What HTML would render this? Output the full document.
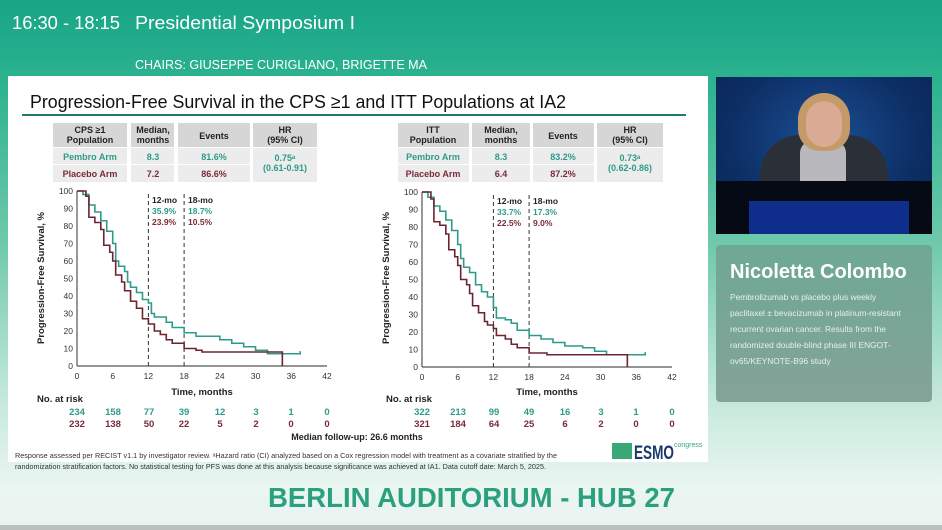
<!DOCTYPE html>
<html><head><meta charset="utf-8"><style>
*{margin:0;padding:0;box-sizing:border-box}
body{width:942px;height:530px;overflow:hidden;position:relative;font-family:"Liberation Sans",sans-serif;
background:linear-gradient(180deg,#17a586 0%,#2cb28f 15%,#6cc8aa 45%,#c4e8da 75%,#eaf6f1 92%,#e9f2ef 100%)}
.a{position:absolute;white-space:nowrap}
.slide{position:absolute;left:8px;top:76px;width:700px;height:386px;background:#fff}
</style></head><body>
<div class="slide"></div>
<div class="a" style="left:716px;top:77px;width:216px;height:157px;background:radial-gradient(ellipse at 50% 40%,#1b4f93 0%,#0d2f66 60%,#0a2350 100%)">
 <div class="a" style="left:0;top:104px;width:216px;height:53px;background:#050a14"></div>
 <div class="a" style="left:33px;top:124px;width:160px;height:33px;background:#0f2d8a"></div>
 <div class="a" style="left:44px;top:58px;width:128px;height:46px;background:#2b3038;border-radius:40px 40px 0 0"></div>
 <div class="a" style="left:84px;top:64px;width:46px;height:40px;background:#b9b8bc;border-radius:12px 12px 0 0"></div>
 <div class="a" style="left:82px;top:16px;width:52px;height:58px;background:#c49a6a;border-radius:26px 26px 22px 22px"></div>
 <div class="a" style="left:90px;top:24px;width:36px;height:46px;background:#d9ab92;border-radius:18px"></div>
</div>
<div class="a" style="left:716px;top:245px;width:216px;height:157px;background:linear-gradient(180deg,#6ea895,#84a399);border-radius:4px"></div>
<div class="a" style="left:730px;top:261px;color:#fff;font-size:20px;font-weight:bold">Nicoletta Colombo</div>
<div class="a" style="left:730px;top:289px;color:#e6f0ec;font-size:8.4px;line-height:16px">Pembrolizumab vs placebo plus weekly<br>paclitaxel ± bevacizumab in platinum-resistant<br>recurrent ovarian cancer. Results from the<br>randomized double-blind phase III ENGOT-<br>ov65/KEYNOTE-B96 study</div>

<svg class="a" style="left:0;top:0" width="942" height="530" font-family="Liberation Sans, sans-serif">
<text x="12" y="29" font-size="18.5" fill="#fff" textLength="108" lengthAdjust="spacingAndGlyphs">16:30 - 18:15</text>
<text x="135" y="29" font-size="18.5" fill="#fff" textLength="220" lengthAdjust="spacingAndGlyphs">Presidential Symposium I</text>
<text x="135" y="69" font-size="12.5" fill="#fff" textLength="292" lengthAdjust="spacingAndGlyphs">CHAIRS: GIUSEPPE CURIGLIANO, BRIGETTE MA</text>
<text x="30" y="108" font-size="18.5" fill="#111" textLength="536" lengthAdjust="spacingAndGlyphs">Progression-Free Survival in the CPS ≥1 and ITT Populations at IA2</text>
<rect x="22" y="114" width="664" height="2" fill="#1e7a6a"/>
<!-- tables -->
<g font-size="9" font-weight="bold" text-anchor="middle">
<g>
<rect x="53" y="123" width="74" height="24" fill="#d6d6d6"/><rect x="131" y="123" width="43" height="24" fill="#d6d6d6"/><rect x="178" y="123" width="72" height="24" fill="#d6d6d6"/><rect x="253" y="123" width="64" height="24" fill="#d6d6d6"/>
<rect x="53" y="148" width="74" height="16" fill="#ececec"/><rect x="131" y="148" width="43" height="16" fill="#ececec"/><rect x="178" y="148" width="72" height="16" fill="#ececec"/>
<rect x="53" y="165" width="74" height="17" fill="#ececec"/><rect x="131" y="165" width="43" height="17" fill="#ececec"/><rect x="178" y="165" width="72" height="17" fill="#ececec"/>
<rect x="253" y="148" width="64" height="34" fill="#ececec"/>
<text x="90" y="133" fill="#222">CPS ≥1</text><text x="90" y="143" fill="#222">Population</text>
<text x="153" y="133" fill="#222">Median,</text><text x="153" y="143" fill="#222">months</text>
<text x="214" y="139" fill="#222">Events</text>
<text x="285" y="133" fill="#222">HR</text><text x="285" y="143" fill="#222">(95% CI)</text>
<text x="90" y="160" fill="#2e9b8a">Pembro Arm</text><text x="153" y="160" fill="#2e9b8a">8.3</text><text x="214" y="160" fill="#2e9b8a">81.6%</text>
<text x="90" y="177" fill="#7a2a38">Placebo Arm</text><text x="153" y="177" fill="#7a2a38">7.2</text><text x="214" y="177" fill="#7a2a38">86.6%</text>
<text x="285" y="161" fill="#2e9b8a">0.75ᵃ</text><text x="285" y="171" fill="#2e9b8a">(0.61-0.91)</text>
</g>
<g>
<rect x="398" y="123" width="71" height="24" fill="#d6d6d6"/><rect x="472" y="123" width="58" height="24" fill="#d6d6d6"/><rect x="533" y="123" width="61" height="24" fill="#d6d6d6"/><rect x="597" y="123" width="66" height="24" fill="#d6d6d6"/>
<rect x="398" y="148" width="71" height="16" fill="#ececec"/><rect x="472" y="148" width="58" height="16" fill="#ececec"/><rect x="533" y="148" width="61" height="16" fill="#ececec"/>
<rect x="398" y="165" width="71" height="17" fill="#ececec"/><rect x="472" y="165" width="58" height="17" fill="#ececec"/><rect x="533" y="165" width="61" height="17" fill="#ececec"/>
<rect x="597" y="148" width="66" height="34" fill="#ececec"/>
<text x="433" y="133" fill="#222">ITT</text><text x="433" y="143" fill="#222">Population</text>
<text x="501" y="133" fill="#222">Median,</text><text x="501" y="143" fill="#222">months</text>
<text x="563" y="139" fill="#222">Events</text>
<text x="630" y="133" fill="#222">HR</text><text x="630" y="143" fill="#222">(95% CI)</text>
<text x="433" y="160" fill="#2e9b8a">Pembro Arm</text><text x="501" y="160" fill="#2e9b8a">8.3</text><text x="563" y="160" fill="#2e9b8a">83.2%</text>
<text x="433" y="177" fill="#7a2a38">Placebo Arm</text><text x="501" y="177" fill="#7a2a38">6.4</text><text x="563" y="177" fill="#7a2a38">87.2%</text>
<text x="630" y="161" fill="#2e9b8a">0.73ᵃ</text><text x="630" y="171" fill="#2e9b8a">(0.62-0.86)</text>
</g>
</g>

<!-- left plot -->
<g font-size="8.5" fill="#333">
<g transform="translate(77,366)">
<line x1="0" y1="0" x2="250" y2="0" stroke="#555" stroke-width="1.2"/>
<line x1="0" y1="0" x2="0" y2="-175" stroke="#555" stroke-width="1.2"/>
<g text-anchor="middle"><text x="0" y="13">0</text><text x="35.7" y="13">6</text><text x="71.4" y="13">12</text><text x="107.1" y="13">18</text><text x="142.9" y="13">24</text><text x="178.6" y="13">30</text><text x="214.3" y="13">36</text><text x="250" y="13">42</text></g>
<g text-anchor="end"><text x="-4" y="3">0</text><text x="-4" y="-14.5">10</text><text x="-4" y="-32">20</text><text x="-4" y="-49.5">30</text><text x="-4" y="-67">40</text><text x="-4" y="-84.5">50</text><text x="-4" y="-102">60</text><text x="-4" y="-119.5">70</text><text x="-4" y="-137">80</text><text x="-4" y="-154.5">90</text><text x="-4" y="-172">100</text></g>
<line x1="71.4" y1="0" x2="71.4" y2="-175" stroke="#333" stroke-dasharray="4,3"/>
<line x1="107.1" y1="0" x2="107.1" y2="-175" stroke="#333" stroke-dasharray="4,3"/>
<g transform="scale(5.952,-1.75)" fill="none">
<path vector-effect="non-scaling-stroke" stroke="#2e9b8a" stroke-width="1.6" d="M0,100H1V98H2V92H3V88H4V83H5V77H6V70H6.5V60H7V57H8V54H8.5V48H9V45H10V42H11V38H12V36H12.5V30H13V28H15V25H16V22H18V19H20V17H24V15H26V13H28V11H30V9H32V7H36V7H37.5V8.5"/>
<path vector-effect="non-scaling-stroke" stroke="#6e2430" stroke-width="1.6" d="M0,100H1.5V97H2V85H3V82H4V78H4.5V69H5.5V65H6V60H6.5V52H7.5V48H8V43H9V37H10V33H11V27H12V24H13V20H14V18H15V15H16V13H18V10H20V9H21V8H34.5V0"/>
</g>
<g font-weight="bold" font-size="8.5"><text x="75" y="-163" fill="#222">12-mo</text><text x="75" y="-152" fill="#2e9b8a">35.9%</text><text x="75" y="-141" fill="#7a2a38">23.9%</text>
<text x="111" y="-163" fill="#222">18-mo</text><text x="111" y="-152" fill="#2e9b8a">18.7%</text><text x="111" y="-141" fill="#7a2a38">10.5%</text></g>
</g>
<text transform="translate(44,278) rotate(-90)" text-anchor="middle" font-weight="bold" font-size="9.5" fill="#222">Progression-Free Survival, %</text>
<text x="202" y="395" text-anchor="middle" font-weight="bold" font-size="9.5" fill="#222">Time, months</text>
</g>

<!-- right plot -->
<g font-size="8.5" fill="#333">
<g transform="translate(422,367)">
<line x1="0" y1="0" x2="250" y2="0" stroke="#555" stroke-width="1.2"/>
<line x1="0" y1="0" x2="0" y2="-175" stroke="#555" stroke-width="1.2"/>
<g text-anchor="middle"><text x="0" y="13">0</text><text x="35.7" y="13">6</text><text x="71.4" y="13">12</text><text x="107.1" y="13">18</text><text x="142.9" y="13">24</text><text x="178.6" y="13">30</text><text x="214.3" y="13">36</text><text x="250" y="13">42</text></g>
<g text-anchor="end"><text x="-4" y="3">0</text><text x="-4" y="-14.5">10</text><text x="-4" y="-32">20</text><text x="-4" y="-49.5">30</text><text x="-4" y="-67">40</text><text x="-4" y="-84.5">50</text><text x="-4" y="-102">60</text><text x="-4" y="-119.5">70</text><text x="-4" y="-137">80</text><text x="-4" y="-154.5">90</text><text x="-4" y="-172">100</text></g>
<line x1="71.4" y1="0" x2="71.4" y2="-175" stroke="#333" stroke-dasharray="4,3"/>
<line x1="107.1" y1="0" x2="107.1" y2="-175" stroke="#333" stroke-dasharray="4,3"/>
<g transform="scale(5.952,-1.75)" fill="none">
<path vector-effect="non-scaling-stroke" stroke="#2e9b8a" stroke-width="1.6" d="M0,100H1V97H2V92H3V89H4V84H5V78H6V70H6.5V62H7V57H8V54H9V47H10V43H11V40H12V34H12.5V28H14V27H15V25H16V21H18V18H20V16H22V14H24V12H27V11H29V9H31V7H37V7H37.5V8.5"/>
<path vector-effect="non-scaling-stroke" stroke="#6e2430" stroke-width="1.6" d="M0,100H1.5V96H2V83H3V81H4V76H4.5V67H5.5V63H6V58H6.5V50H7.5V47H8V42H8.5V35H9.5V31H10.5V26H11V24H12V22H12.5V18H14V16H15V13H16V11H18V8H21V7H34.5V0"/>
</g>
<g font-weight="bold" font-size="8.5"><text x="75" y="-163" fill="#222">12-mo</text><text x="75" y="-152" fill="#2e9b8a">33.7%</text><text x="75" y="-141" fill="#7a2a38">22.5%</text>
<text x="111" y="-163" fill="#222">18-mo</text><text x="111" y="-152" fill="#2e9b8a">17.3%</text><text x="111" y="-141" fill="#7a2a38">9.0%</text></g>
</g>
<text transform="translate(389,278) rotate(-90)" text-anchor="middle" font-weight="bold" font-size="9.5" fill="#222">Progression-Free Survival, %</text>
<text x="547" y="395" text-anchor="middle" font-weight="bold" font-size="9.5" fill="#222">Time, months</text>
</g>

<!-- risk -->
<g font-size="9.5" font-weight="bold" text-anchor="middle">
<text x="60" y="402" fill="#222">No. at risk</text><text x="409" y="402" fill="#222">No. at risk</text>
<g fill="#2e9b8a"><text x="77" y="415">234</text><text x="113" y="415">158</text><text x="149" y="415">77</text><text x="184" y="415">39</text><text x="220" y="415">12</text><text x="256" y="415">3</text><text x="291" y="415">1</text><text x="327" y="415">0</text>
<text x="422" y="415">322</text><text x="458" y="415">213</text><text x="494" y="415">99</text><text x="529" y="415">49</text><text x="565" y="415">16</text><text x="601" y="415">3</text><text x="636" y="415">1</text><text x="672" y="415">0</text></g>
<g fill="#7a2a38"><text x="77" y="427">232</text><text x="113" y="427">138</text><text x="149" y="427">50</text><text x="184" y="427">22</text><text x="220" y="427">5</text><text x="256" y="427">2</text><text x="291" y="427">0</text><text x="327" y="427">0</text>
<text x="422" y="427">321</text><text x="458" y="427">184</text><text x="494" y="427">64</text><text x="529" y="427">25</text><text x="565" y="427">6</text><text x="601" y="427">2</text><text x="636" y="427">0</text><text x="672" y="427">0</text></g>
<text x="357" y="440" fill="#222" font-size="9">Median follow-up: 26.6 months</text>
</g>
<g font-size="7" fill="#333">
<text x="15" y="458" textLength="542" lengthAdjust="spacingAndGlyphs">Response assessed per RECIST v1.1 by investigator review. ᵃHazard ratio (CI) analyzed based on a Cox regression model with treatment as a covariate stratified by the</text>
<text x="15" y="469" textLength="531" lengthAdjust="spacingAndGlyphs">randomization stratification factors. No statistical testing for PFS was done at this analysis because significance was achieved at IA1. Data cutoff date: March 5, 2025.</text>
</g>
<rect x="612" y="443" width="20" height="16" fill="#3aa776"/>
<text x="634" y="459" font-size="19" font-weight="bold" fill="#1a3a6a" textLength="40" lengthAdjust="spacingAndGlyphs">ESMO</text>
<text x="674" y="447" font-size="7" fill="#3aa776">congress</text>
<text x="268" y="507" font-size="28" font-weight="bold" fill="#2aa07f" textLength="407" lengthAdjust="spacingAndGlyphs">BERLIN AUDITORIUM - HUB 27</text>
<rect x="0" y="525" width="942" height="5" fill="#b9c0be"/>
</svg>
</body></html>
